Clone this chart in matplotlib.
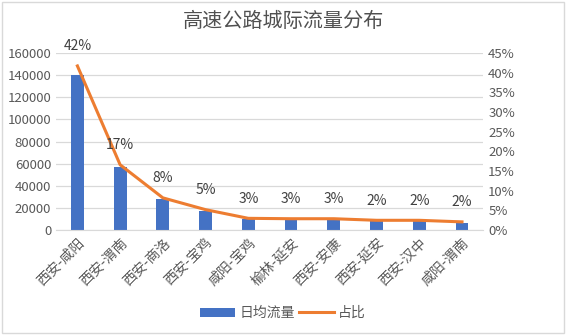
import matplotlib.pyplot as plt
import numpy as np

plt.rcParams['font.family'] = ['Noto Sans CJK SC', 'DejaVu Sans']

# data
routes = ['西安-咸阳', '西安-渭南', '西安-商洛', '西安-宝鸡', '咸阳-宝鸡',
          '榆林-延安', '西安-安康', '西安-延安', '西安-汉中', '咸阳-渭南']
daily_flow = [140500, 57000, 28000, 17500, 10000, 9500, 9500, 8500, 8500, 6500]
share = [41.7, 16.6, 8.2, 5.2, 3.0, 2.9, 2.9, 2.5, 2.5, 2.1]
share_labels = ['42%', '17%', '8%', '5%', '3%', '3%', '3%', '2%', '2%', '2%']

bar_color = '#4472C4'
line_color = '#ED7D31'
text_color = '#595959'

fig = plt.figure(figsize=(5.66, 3.35), dpi=100)
ax = fig.add_axes([0.099, 0.313, 0.755, 0.529])
x = np.arange(len(routes))

ax.bar(x, daily_flow, width=0.3, color=bar_color, label='日均流量', zorder=2)
ax.set_ylim(0, 160000)
ax.set_yticks(np.arange(0, 160001, 20000))
ax.set_xlim(-0.5, len(routes) - 0.5)
ax.grid(axis='y', color='#D9D9D9', linewidth=0.9, zorder=0)
ax.set_axisbelow(True)
for s in ['top', 'right', 'left']:
    ax.spines[s].set_visible(False)
ax.spines['bottom'].set_color('#D9D9D9')
ax.tick_params(axis='both', length=0, colors=text_color, labelsize=9.5)
ax.tick_params(axis='x', labelsize=10, pad=4)
ax.set_xticks(x)
ax.set_xticklabels(routes, rotation=45, ha='right', rotation_mode='anchor')

ax2 = ax.twinx()
ax2.plot(x, share, color=line_color, linewidth=2.2, label='占比', zorder=3)
ax2.set_ylim(0, 45)
ax2.set_yticks(np.arange(0, 46, 5))
ax2.set_yticklabels([f'{v}%' for v in range(0, 46, 5)])
for s in ax2.spines.values():
    s.set_visible(False)
ax2.tick_params(axis='y', length=0, colors=text_color, labelsize=9.5)

for xi, yi, lab in zip(x, share, share_labels):
    ax2.annotate(lab, (xi, yi), xytext=(0, 9), textcoords='offset points',
                 ha='center', va='bottom', fontsize=10, color='#404040')

fig.text(0.5, 0.935, '高速公路城际流量分布', ha='center', va='center',
         fontsize=14.5, color='#505050')

h1, l1 = ax.get_legend_handles_labels()
h2, l2 = ax2.get_legend_handles_labels()
fig.legend(h1 + h2, l1 + l2, loc='center', bbox_to_anchor=(0.5, 0.065), ncol=2,
           frameon=False, fontsize=10, labelcolor=text_color, handlelength=2.5,
           columnspacing=0.3, handletextpad=0.3)

fig.patches.append(plt.Rectangle((0.003, 0.005), 0.994, 0.99, transform=fig.transFigure,
                                 fill=False, edgecolor='#D9D9D9', linewidth=1))

fig.savefig('out.png', dpi=100)
